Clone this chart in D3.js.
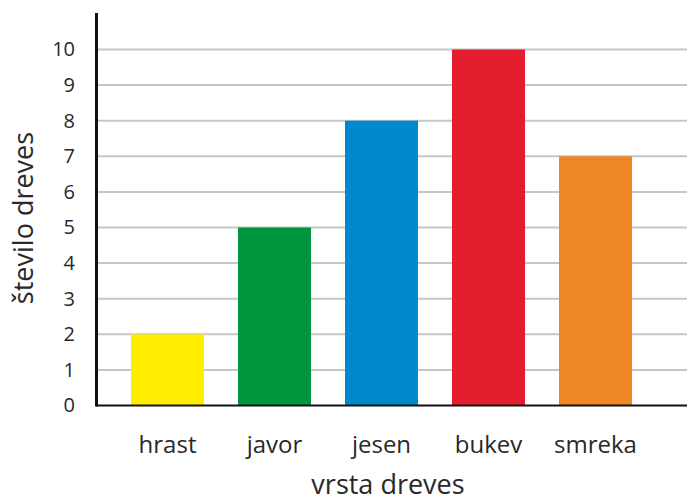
<!DOCTYPE html>
<html>
<head>
<meta charset="utf-8">
<script src="https://cdn.jsdelivr.net/npm/d3@7"></script>
<style>
  body { margin: 0; background: #fff; }
  text { font-family: "Open Sans", sans-serif; fill: #2a2828; }
</style>
</head>
<body>
<div id="chart"></div>
<script>
// data
const trees = ["hrast", "javor", "jesen", "bukev", "smreka"];
const counts = [2, 5, 8, 10, 7];
const barColors = ["#ffed00", "#009640", "#0088cc", "#e31d2d", "#ee8623"];
const yTicks = [0, 1, 2, 3, 4, 5, 6, 7, 8, 9, 10];

const width = 691;
const height = 502;

const svg = d3.select("#chart")
  .append("svg")
  .attr("width", width)
  .attr("height", height);

const x = d3.scaleBand()
  .domain(trees)
  .range([114, 649])
  .paddingInner(0.318)
  .paddingOuter(0.159);

const y = d3.scaleLinear()
  .domain([0, 10])
  .range([405.5, 49.5]);

// grid
svg.append("g")
  .selectAll("line")
  .data(yTicks.filter(d => d > 0))
  .enter()
  .append("line")
  .attr("x1", 96)
  .attr("x2", 687)
  .attr("y1", d => y(d))
  .attr("y2", d => y(d))
  .attr("stroke", "#c6c6c6")
  .attr("stroke-width", 2);

// bars
svg.append("g")
  .selectAll("rect")
  .data(trees)
  .enter()
  .append("rect")
  .attr("x", d => x(d))
  .attr("y", (d, i) => y(counts[i]))
  .attr("width", x.bandwidth())
  .attr("height", (d, i) => y(0) - y(counts[i]))
  .attr("fill", (d, i) => barColors[i]);

// y axis
const yAxis = d3.axisLeft(y).tickValues(yTicks).tickSize(0).tickPadding(21);
svg.append("g")
  .attr("transform", "translate(96,0)")
  .call(yAxis)
  .call(g => g.select(".domain").remove())
  .selectAll("text")
  .style("font-size", "20px")
  .style("font-family", "'Open Sans', sans-serif")
  .attr("fill", "#2a2828");

// x axis
const xAxis = d3.axisBottom(x).tickSize(0).tickPadding(30);
svg.append("g")
  .attr("transform", `translate(0,${y(0)})`)
  .call(xAxis)
  .call(g => g.select(".domain").remove())
  .selectAll("text")
  .style("font-size", "24px")
  .style("font-family", "'Open Sans', sans-serif")
  .attr("fill", "#2a2828");

// axis lines
svg.append("line")
  .attr("x1", 96).attr("x2", 687)
  .attr("y1", y(0)).attr("y2", y(0))
  .attr("stroke", "#111").attr("stroke-width", 2);

svg.append("line")
  .attr("x1", 96.5).attr("x2", 96.5)
  .attr("y1", 13).attr("y2", y(0) + 1)
  .attr("stroke", "#111").attr("stroke-width", 3);

// titles
svg.append("text")
  .attr("x", 388)
  .attr("y", 494)
  .attr("text-anchor", "middle")
  .style("font-size", "27px")
  .text("vrsta dreves");

svg.append("text")
  .attr("transform", "translate(33,218) rotate(-90)")
  .attr("text-anchor", "middle")
  .style("font-size", "27px")
  .text("število dreves");
</script>
</body>
</html>
